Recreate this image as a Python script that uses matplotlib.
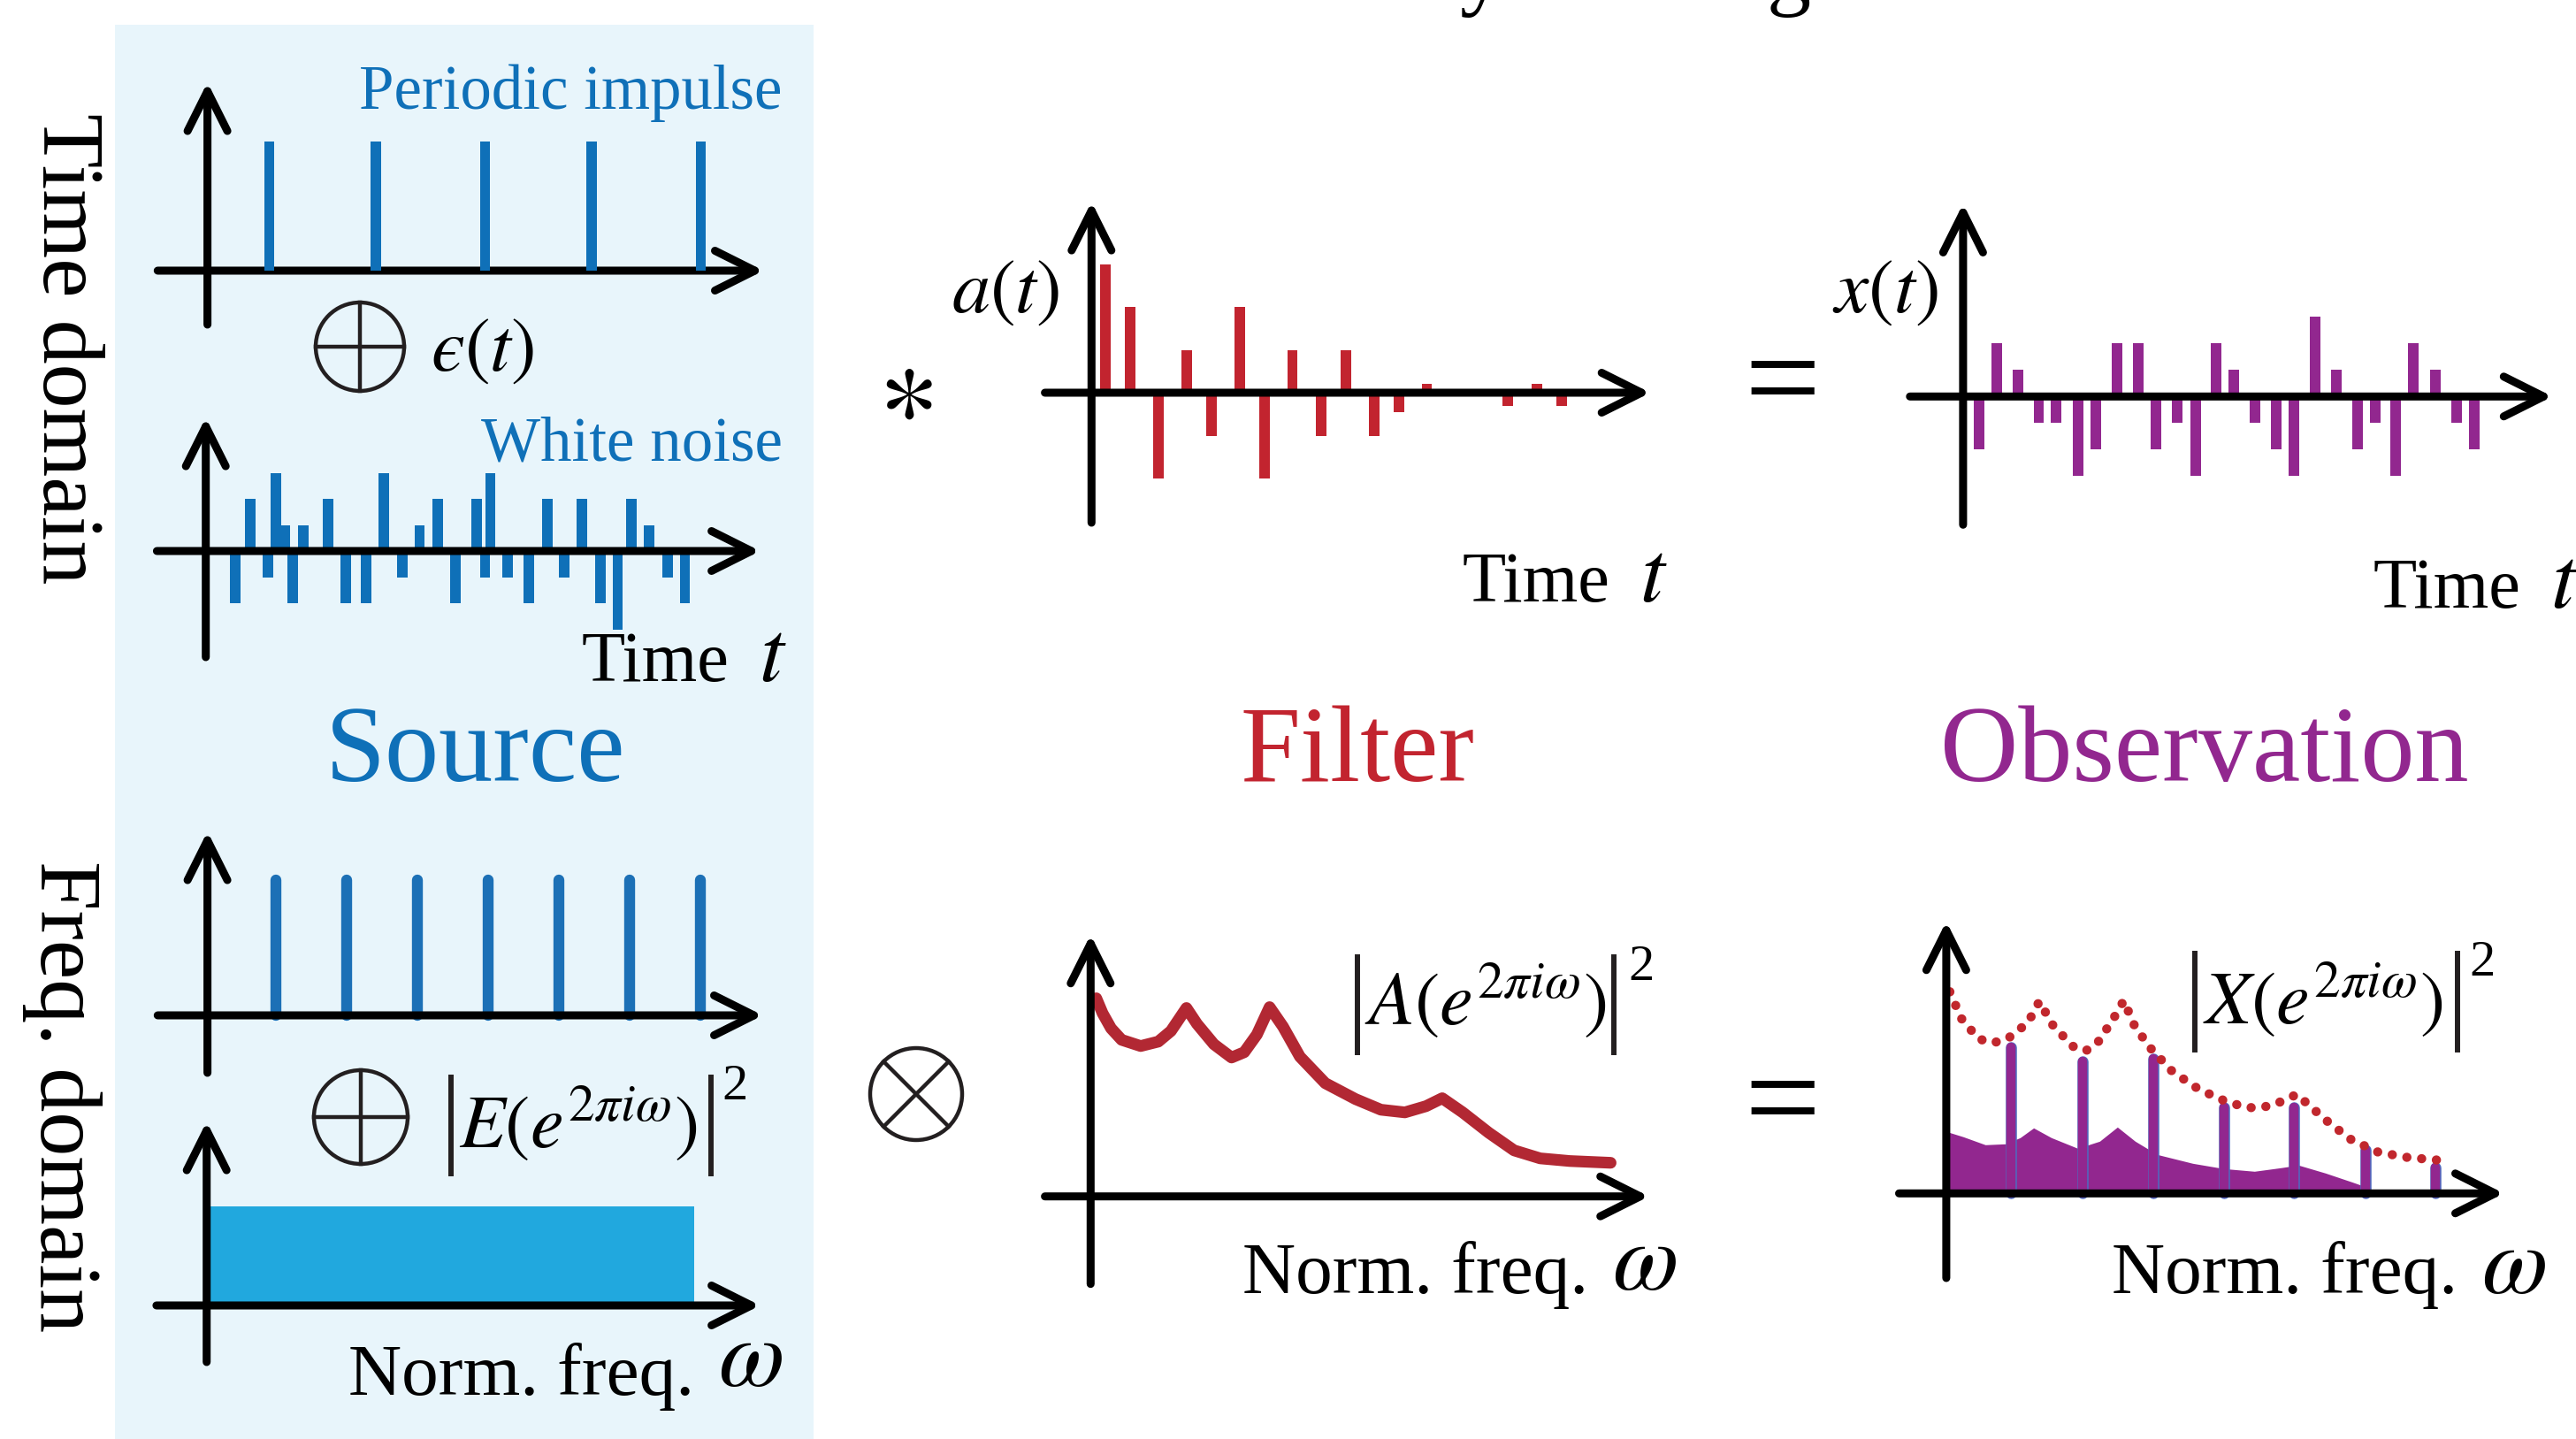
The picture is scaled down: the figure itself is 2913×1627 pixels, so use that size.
import matplotlib
matplotlib.use("Agg")
import matplotlib.pyplot as plt
import matplotlib.patheffects as pe
from matplotlib.patches import Ellipse, Rectangle
from matplotlib.lines import Line2D

plt.rcParams['font.family'] = ['Liberation Serif', 'DejaVu Serif']
plt.rcParams['mathtext.fontset'] = 'stix'

W, H = 2913, 1627

BLUE = '#0F70B8'
BLUE_FILL = '#21A8DE'
BOX = '#E8F5FB'
RED = '#C2242F'
RED_CURVE = '#B22833'
PURPLE = '#92278F'
INK = '#231F20'

#### Data ####

# source, time domain (time step units)
impulse_t = [3.55, 9.65, 15.9, 22.0, 28.25]
impulse_amp = [5, 5, 5, 5, 5]

noise_t = [1.7, 2.55, 3.55, 4.0, 4.55, 5.0, 5.6, 7.0, 8.0, 9.2,
           10.2, 11.25, 12.25, 13.3, 14.3, 15.5, 16.0, 16.3, 17.3, 18.5,
           19.55, 20.55, 21.55, 22.6, 23.6, 24.4, 25.4, 26.45, 27.45]
noise_val = [-2, 2, -1, 3, 1, -2, 1, 2, -2, -2,
             3, -1, 1, 2, -2, 2, -1, 3, -1, -2,
             2, -1, 2, -2, -3, 2, 1, -1, -2]

# filter a(t)
filter_t = [0.8, 2.2, 3.85, 5.45, 6.85, 8.5, 9.9, 11.5, 13.15, 14.55,
            16.2, 17.6, 19.2, 23.85, 25.5, 26.9]
filter_val = [3, 2, -2, 1, -1, 2, -2, 1, -1, 1,
              -1, -0.45, 0.2, -0.3, 0.2, -0.3]

# observation x(t)
obs_t = [0.9, 1.9, 3.1, 4.3, 5.3, 6.55, 7.55, 8.75, 9.95, 10.95,
         12.15, 13.2, 14.4, 15.4, 16.6, 17.8, 18.8, 20.0, 21.2, 22.4,
         23.4, 24.6, 25.6, 26.85, 28.05, 29.05]
obs_val = [-2, 2, 1, -1, -1, -3, -2, 2, 2, -2,
           -1, -3, 2, 1, -1, -2, -3, 3, 1, -2,
           -1, -3, 2, 1, -1, -2]

# source, frequency domain (units of the fundamental)
harm_w = [0.97, 1.98, 2.98, 3.98, 4.99, 5.99, 7.0]
harm_amp = [1.53, 1.53, 1.53, 1.53, 1.53, 1.53, 1.53]
flat_w_end = 6.92
flat_level = 1.12

# filter |A|^2
filt_w = [0.08, 0.17, 0.29, 0.44, 0.71, 0.96, 1.14, 1.36, 1.51, 1.75,
          2.0, 2.18, 2.36, 2.54, 2.73, 2.97, 3.33, 3.76, 4.12, 4.46,
          4.76, 4.99, 5.28, 5.65, 6.01, 6.38, 6.80, 7.38]
filt_amp = [2.24, 2.07, 1.90, 1.77, 1.70, 1.75, 1.87, 2.13, 1.95, 1.72,
            1.57, 1.63, 1.83, 2.14, 1.92, 1.58, 1.28, 1.10, 0.98, 0.95,
            1.02, 1.11, 0.95, 0.72, 0.52, 0.43, 0.40, 0.38]

# observation |X|^2
obs_fill_w = [0.0, 0.24, 0.55, 0.83, 1.04, 1.23, 1.48, 1.85, 2.16, 2.41,
              2.66, 2.97, 3.47, 3.91, 4.34, 4.71, 4.96, 5.34, 5.71, 5.96, 6.07]
obs_fill_amp = [0.70, 0.64, 0.55, 0.56, 0.63, 0.74, 0.63, 0.51, 0.59, 0.75,
                0.59, 0.44, 0.34, 0.28, 0.25, 0.29, 0.32, 0.23, 0.13, 0.06, 0.0]
obs_env_w = [0.05, 0.21, 0.45, 0.64, 0.85, 1.15, 1.31, 1.51, 1.79, 1.96,
             2.12, 2.35, 2.50, 2.66, 2.89, 3.17, 3.49, 3.84, 4.22, 4.42,
             4.61, 4.94, 5.09, 5.39, 5.70, 6.07, 6.46, 6.86, 7.05]
obs_env_amp = [2.28, 1.98, 1.75, 1.70, 1.74, 1.93, 2.17, 1.89, 1.66, 1.61,
               1.69, 1.97, 2.18, 1.88, 1.63, 1.39, 1.21, 1.07, 0.97, 0.97,
               1.00, 1.12, 1.01, 0.80, 0.61, 0.47, 0.41, 0.38, 0.37]
obs_harm_w = [0.91, 1.92, 2.91, 3.91, 4.90, 5.90, 6.89]
obs_harm_amp = [1.65, 1.49, 1.52, 0.97, 0.97, 0.49, 0.29]

#### Figure ####

fig = plt.figure(figsize=(W / 100, H / 100), dpi=100)
fig.patch.set_facecolor('white')

fig.add_artist(Rectangle((130 / W, 0), 790 / W, (H - 28) / H, transform=fig.transFigure,
                         facecolor=BOX, edgecolor='none', zorder=-1))


def panel(ox, oy, left, right, down, up, sx, sy):
    # axes placed so that the data origin sits at pixel (ox, oy)
    ax = fig.add_axes([(ox - left) / W, (H - oy - down) / H, (left + right) / W, (down + up) / H])
    ax.set_xlim(-left / sx, right / sx)
    ax.set_ylim(-down / sy, up / sy)
    ax.axis('off')
    arrow = dict(arrowstyle='->', mutation_scale=81, lw=6.5, color='black',
                 shrinkA=0, shrinkB=0, capstyle='round', joinstyle='round')
    ax.annotate('', xy=(right / sx, 0), xytext=(-left / sx, 0), arrowprops=arrow,
                annotation_clip=False, zorder=5)
    ax.annotate('', xy=(0, up / sy), xytext=(0, -down / sy), arrowprops=arrow,
                annotation_clip=False, zorder=5)
    return ax


def label(x, y, s, size, color='black', ha='left', va='baseline', **kw):
    fig.text(x / W, 1 - y / H, s, fontsize=size, color=color, ha=ha, va=va, **kw)


def vbar(x, y0, y1):
    fig.add_artist(Line2D([x / W, x / W], [1 - y0 / H, 1 - y1 / H], transform=fig.transFigure,
                          lw=4.3, color=INK, zorder=4))


def circled(cx, cy, r, kind):
    fig.add_artist(Ellipse((cx / W, 1 - cy / H), 2 * r / W, 2 * r / H, transform=fig.transFigure,
                           fill=False, lw=3.2, edgecolor=INK, zorder=4))
    if kind == 'plus':
        segs = [((cx - r, cy), (cx + r, cy)), ((cx, cy - r), (cx, cy + r))]
    else:
        d = r * 0.7071
        segs = [((cx - d, cy - d), (cx + d, cy + d)), ((cx - d, cy + d), (cx + d, cy - d))]
    for (x0, y0), (x1, y1) in segs:
        fig.add_artist(Line2D([x0 / W, x1 / W], [1 - y0 / H, 1 - y1 / H], transform=fig.transFigure,
                              lw=3.2, color=INK, zorder=4))


def spectrum_label(xl, xr, ytop, ybot, inner, x_in, y_base, x_sq, y_sq):
    # |inner|^2 with tall bars
    vbar(xl, ytop, ybot)
    vbar(xr, ytop, ybot)
    label(x_in, y_base, inner, 61)
    label(x_sq, y_sq, '2', 42)


def time_label(x_right, y_base):
    label(x_right - 66, y_base, 'Time', 58, ha='right')
    label(x_right, y_base, r'$t$', 72, ha='right')


def freq_label(x_right, y_base, lift=0):
    label(x_right - 100, y_base, 'Norm. freq.', 60, ha='right')
    label(x_right, y_base - lift, r'$\omega$', 78, ha='right')


# Source: periodic impulse
ax1 = panel(234.6, 306, 56.3, 629, 61, 213, 19.74, 29.2)
ax1.bar(impulse_t, impulse_amp, width=0.57, color=BLUE, zorder=6)

# Source: white noise
ax2 = panel(232.7, 623, 55.3, 627, 120, 151, 19.74, 29.5)
ax2.bar(noise_t, noise_val, width=0.6, color=BLUE, zorder=2)

# Source: harmonic spectrum
ax3 = panel(234.6, 1148, 56.3, 628, 65, 208, 79.67, 100)
lc = ax3.vlines(harm_w, 0, harm_amp, colors='#1C70B6', lw=8.9, zorder=2)
lc.set_capstyle('round')

# Source: flat noise spectrum
ax4 = panel(233.7, 1476, 56.8, 626, 64, 208, 79.67, 100)
ax4.bar(0, flat_level, width=flat_w_end, align='edge', color=BLUE_FILL, zorder=2)

# Filter: impulse response
ax5 = panel(1234.3, 444, 52.7, 632, 147, 216, 19.75, 48.5)
ax5.bar(filter_t, filter_val, width=0.6, color=RED, zorder=2)

# Observation: time signal
ax6 = panel(2219.9, 448.3, 60.1, 666.5, 145, 218, 19.9, 30)
ax6.bar(obs_t, obs_val, width=0.6, color=PURPLE, zorder=2)

# Filter: power spectrum
ax7 = panel(1233.3, 1352.7, 51.7, 631.5, 99, 296, 79.68, 100)
ax7.plot(filt_w, filt_amp, color=RED_CURVE, lw=9.5, solid_capstyle='round',
         solid_joinstyle='round', zorder=2)

# Observation: power spectrum
ax8 = panel(2200.9, 1349.3, 53.4, 630.7, 95.7, 307.6, 80.28, 100)
ax8.fill_between(obs_fill_w, obs_fill_amp, 0, color=PURPLE, lw=0, zorder=1)
stems = ax8.vlines(obs_harm_w, 0, obs_harm_amp, colors=PURPLE, lw=7.5, zorder=2)
stems.set_capstyle('round')
stems.set_path_effects([pe.Stroke(linewidth=9, foreground='#4F6BBF'), pe.Normal()])
ax8.plot(obs_env_w, obs_env_amp, color='#C1272D', lw=7.5, linestyle=(0, (0.01, 1.6)),
         dash_capstyle='round', zorder=3)

#### Texts ####

label(2048, -1, 'Source\u2013filter model by filtering', 72, ha='right')

label(73, 394, 'Time domain', 72, ha='center', va='center', rotation=270)
label(70, 1240, 'Freq. domain', 72, ha='center', va='center', rotation=270)

label(884, 123, 'Periodic impulse', 51, color=BLUE, ha='right')
label(885, 520, 'White noise', 51, color=BLUE, ha='right')
time_label(890, 770)

circled(407, 392, 50, 'plus')
label(487, 419, '$\u03f5(t)$', 62)

circled(408, 1263, 53, 'plus')
spectrum_label(510, 804, 1218, 1327, r'$E(e^{2\pi i\omega})$', 519, 1297, 816, 1243)
freq_label(885, 1577, lift=10)

label(538, 883, 'Source', 88, color=BLUE, ha='center')
label(1535, 883, 'Filter', 88, color=RED, ha='center')
label(2493, 883, 'Observation', 88, color=PURPLE, ha='center')

label(1198, 353, r'$a(t)$', 62, ha='right')
label(2192, 353, r'$x(t)$', 62, ha='right')
time_label(1886, 680)
time_label(2916, 687)

label(1024, 478, r'$\ast$', 94, ha='center')
label(2016, 478, '=', 110, ha='center')
circled(1036, 1237, 52, 'times')
label(2016, 1292, '=', 110, ha='center')

spectrum_label(1535, 1825, 1082, 1190, r'$A(e^{2\pi i\omega})$', 1543, 1158, 1841, 1108)
freq_label(1896, 1462, lift=4)
spectrum_label(2482, 2779, 1078, 1187, r'$X(e^{2\pi i\omega})$', 2491, 1157, 2792, 1103)
freq_label(2879, 1462)

fig.savefig('out.png', dpi=100)
